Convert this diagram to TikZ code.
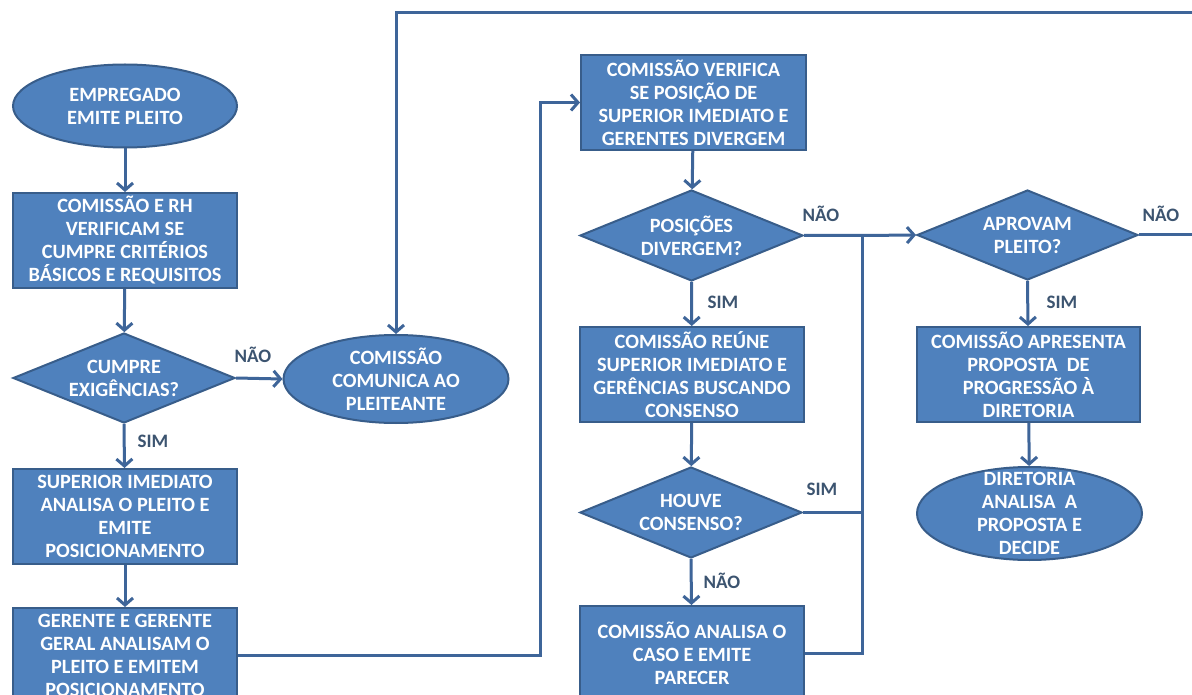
\documentclass[tikz,border=0pt]{standalone}
\usepackage{fontspec}
\setmainfont{Carlito}
\usetikzlibrary{shapes.geometric,arrows.meta}
\definecolor{boxfill}{HTML}{4F81BD}
\definecolor{boxline}{HTML}{385D8A}
\definecolor{conn}{HTML}{3E6599}
\definecolor{lbl}{HTML}{3C5470}
\tikzset{
  txt/.style={text=white, font=\bfseries\fontsize{20.3}{23}\selectfont, align=center, inner sep=0pt},
  procbox/.style={rectangle, draw=boxline, fill=boxfill, line width=2pt, inner sep=0pt, txt},
  decbox/.style={diamond, draw=boxline, fill=boxfill, line width=2pt, inner sep=0pt},
  termbox/.style={ellipse, draw=boxline, fill=boxfill, line width=2pt, inner sep=0pt},
  conn/.style={draw=conn, line width=3pt},
  arr/.style={conn, -{Straight Barb[length=7pt,width=16pt]}},
  lab/.style={text=lbl, font=\bfseries\fontsize{19}{22}\selectfont, inner sep=0pt}
}
\begin{document}
\begin{tikzpicture}[x=1pt,y=-1pt]
\useasboundingbox (0,0) rectangle (1192,695);
\clip (0,0) rectangle (1192,695);
\fill[white] (0,0) rectangle (1192,695);

% left column
\node[termbox, minimum width=224pt, minimum height=83pt,
  label={[txt]center:EMPREGADO\\EMITE PLEITO}] (e1) at (125,106) {};
\node[procbox, minimum width=224pt, minimum height=95pt] (b1) at (125,240.5)
  {COMISSÃO E RH\\VERIFICAM SE\\CUMPRE CRITÉRIOS\\BÁSICOS E REQUISITOS};
\node[decbox, minimum width=222pt, minimum height=90pt,
  label={[txt]center:CUMPRE\\EXIGÊNCIAS?}] (d1) at (124,378) {};
\node[termbox, minimum width=225pt, minimum height=88pt,
  label={[txt]center:COMISSÃO\\COMUNICA AO\\PLEITEANTE}] (e2) at (396,379) {};
\node[procbox, minimum width=224pt, minimum height=95pt] (b2) at (125,516.5)
  {SUPERIOR IMEDIATO\\ANALISA O PLEITO E\\EMITE\\POSICIONAMENTO};
\node[procbox, minimum width=224pt, minimum height=95pt] (b3) at (125,655.5)
  {GERENTE E GERENTE\\GERAL ANALISAM O\\PLEITO E EMITEM\\POSICIONAMENTO};

% middle column
\node[procbox, minimum width=225pt, minimum height=95pt] (b4) at (693.5,102.5)
  {COMISSÃO VERIFICA\\SE POSIÇÃO DE\\SUPERIOR IMEDIATO E\\GERENTES DIVERGEM};
\node[decbox, minimum width=223pt, minimum height=91pt,
  label={[txt]center:POSIÇÕES\\DIVERGEM?}] (d2) at (691.5,235.5) {};
\node[procbox, minimum width=224pt, minimum height=95pt] (b5) at (692,374.5)
  {COMISSÃO REÚNE\\SUPERIOR IMEDIATO E\\GERÊNCIAS BUSCANDO\\CONSENSO};
\node[decbox, minimum width=222pt, minimum height=91pt,
  label={[txt]center:HOUVE\\CONSENSO?}] (d3) at (691,512.5) {};
\node[procbox, minimum width=224pt, minimum height=94pt] (b6) at (692,653)
  {COMISSÃO ANALISA O\\CASO E EMITE\\PARECER};

% right column
\node[decbox, minimum width=221pt, minimum height=90pt,
  label={[txt]center:APROVAM\\PLEITO?}] (d4) at (1027.5,235) {};
\node[procbox, minimum width=223pt, minimum height=95pt] (b7) at (1028.5,374.5)
  {COMISSÃO APRESENTA\\PROPOSTA\ \ DE\\PROGRESSÃO À\\DIRETORIA};
\node[termbox, minimum width=225pt, minimum height=93pt,
  label={[txt]center:DIRETORIA\\ANALISA\ \ A\\PROPOSTA E\\DECIDE}] (e3) at (1029.5,513.5) {};

% free ends and junctions
\coordinate (topR) at (1196,13);
\coordinate (topL) at (396,13);
\coordinate (jx) at (862,235.5);
\coordinate (aproR) at (1196,235);
\coordinate (ger1) at (540,655.5);
\coordinate (ger2) at (540,102.5);

% connectors
\draw[arr] (e1) -- (b1);
\draw[arr] (b1) -- (d1);
\draw[arr] (d1.east) -- (e2.west);
\draw[arr] (d1.south) -- (b2);
\draw[arr] (b2) -- (b3);
\draw[arr] (b3.east) -- (ger1) -- (ger2) -- (b4.west);
\draw[arr] (topR) -- (topL) -- (e2.north);
\draw[arr] (b4) -- (d2);
\draw[arr] (d2.south) -- (b5);
\draw[arr] (d2.east) -- (jx) -- (d4.west);
\draw[arr] (b5) -- (d3);
\draw[arr] (d3.south) -- (b6);
\draw[conn] (d3.east) -- (d3.east -| jx);
\draw[conn] (b6.east) -- (b6.east -| jx) -- (jx);
\draw[conn] (d4.east) -- (aproR);
\draw[arr] (d4.south) -- (b7);
\draw[arr] (b7) -- (e3);

% labels
\node[lab] (l1) at (253,355) {NÃO};
\node[lab] (l2) at (153,441) {SIM};
\node[lab] (l3) at (821,214) {NÃO};
\node[lab] (l4) at (723,302) {SIM};
\node[lab] (l5) at (822,489) {SIM};
\node[lab] (l6) at (722,581) {NÃO};
\node[lab] (l7) at (1161,214) {NÃO};
\node[lab] (l8) at (1062,302) {SIM};
\end{tikzpicture}
\end{document}
